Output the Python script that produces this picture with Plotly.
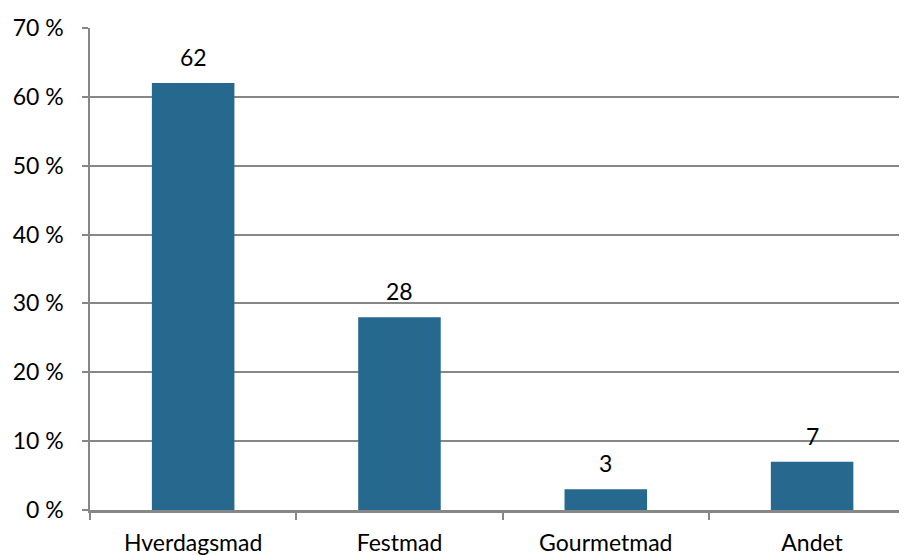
import plotly.graph_objects as go

categories = ["Hverdagsmad", "Festmad", "Gourmetmad", "Andet"]
values = [62, 28, 3, 7]
y_ticks = [0, 10, 20, 30, 40, 50, 60, 70]
y_tick_labels = [f"{t} %" for t in y_ticks]

bar_color = "#27688F"
axis_gray = "#878787"
font_family = "Lato, Open Sans, sans-serif"

fig = go.Figure()
fig.add_trace(go.Bar(
    x=categories, y=values, marker=dict(color=bar_color, line=dict(width=0)),
    width=0.4, showlegend=False, hoverinfo="x+y",
))

# datalabels over the bars
for cat, val in zip(categories, values):
    fig.add_annotation(
        x=cat, y=val, text=str(val), showarrow=False,
        yanchor="middle", yshift=26,
        font=dict(family=font_family, size=23, color="#000000"),
    )

# page body has an 8px margin, so the figure is a bit smaller than the window
fig.update_layout(
    width=899, height=547,
    margin=dict(l=82, r=0, t=20, b=45),
    paper_bgcolor="white", plot_bgcolor="white",
    font=dict(family=font_family, size=23, color="#000000"),
)
fig.update_xaxes(
    range=[-0.5, 3.46], tickson="boundaries", ticks="outside", ticklen=7,
    tickwidth=1.5, tickcolor=axis_gray, showline=True, linecolor=axis_gray,
    linewidth=2.5, showgrid=False, ticklabelstandoff=11,
)
fig.update_yaxes(
    range=[0, 70], tickvals=y_ticks, ticktext=y_tick_labels, ticks="outside", ticklen=6,
    tickwidth=1.5, tickcolor=axis_gray, showline=True, linecolor=axis_gray,
    linewidth=1.5, showgrid=True, gridcolor=axis_gray, gridwidth=1.5,
    zeroline=False, ticklabelstandoff=14,
)

fig.write_html("out.html")
